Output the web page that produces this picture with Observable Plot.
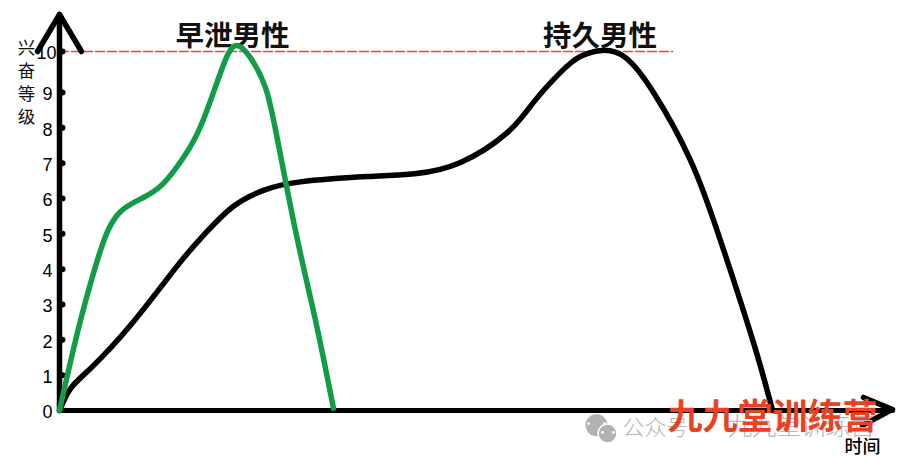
<!DOCTYPE html>
<html><head><meta charset="utf-8">
<script src="https://cdn.jsdelivr.net/npm/d3@7"></script>
<script src="https://cdn.jsdelivr.net/npm/@observablehq/plot@0.6"></script>
<style>html,body{margin:0;padding:0;background:#fff}svg{display:block}</style>
</head><body><div id="chart"></div>
<script>
const cjk = "'Noto Sans CJK SC','Noto Sans',sans-serif";
const latin = "'Liberation Sans',Arial,sans-serif";

// excitement curves: time (x) and excitement level (y)
const greenT = [0,2.1,4.1,5.1,6.3,8.4,10.4,12.4,14.2,16.2,17.7,19.4,20.6,21.6,23.6,25.6,27.4];
const greenV = [0,2.55,4.53,5.24,5.68,6.03,6.43,7.16,8.1,9.55,10.16,9.73,9.12,7.95,5.09,2.55,0.06];
const blackT = [0,1.1,3.1,7.1,11.8,14.6,17.4,20.4,24.1,30.8,35.5,40.1,44.8,47.4,50.1,52.1,54.3,56.6,59.4,63.1,66.1,69.4,71.3];
const blackV = [0,0.62,1.19,2.41,4.10,5.02,5.78,6.23,6.47,6.62,6.7,7.02,7.87,8.72,9.49,9.88,10.03,9.85,9.0,7.08,4.81,1.92,0];

const levels = [0,1,2,3,4,5,6,7,8,9,10];
const levelLabelX = [-0.7,-0.7,-0.7,-0.7,-0.7,-0.7,-0.7,-0.7,-0.7,-0.7,-0.3];

const yAxisX = [0,0], yAxisY = [0,11];
const yHeadX = [-2.2,0,2.2], yHeadY = [10,11,10];
const xAxisX = [0,83.3], xAxisY = [0,0];
const xHeadX = [80.4,83.3,80.3], xHeadY = [0.37,0.03,-0.42];
const refX = [0,61.3], refY = [10,10];

const seriesLabels = ["早泄男性","持久男性"];
const seriesLabelX = [17.3,54.05], seriesLabelY = [10.4,10.4];

const bubbleX = [53.7,54.8], bubbleY = [-0.42,-0.65], bubbleR = [11,9.5];
const eyeX = [52.9,54.5,54.3,55.4], eyeY = [-0.37,-0.37,-0.62,-0.62];

function line(xs, ys, opts) {
  return Plot.line(xs.map((_, i) => i), {x: i => xs[i], y: i => ys[i], ...opts});
}
function text(items, xs, ys, opts) {
  return Plot.text(items.map((_, i) => i), {x: i => xs[i], y: i => ys[i], text: i => items[i], ...opts});
}

const chart = Plot.plot({
  width: 902, height: 464,
  margin: 0, marginTop: 0, marginRight: 0, marginBottom: 0, marginLeft: 0,
  style: {background: "#fff"},
  x: {type: "linear", domain: [-5.9, 84.3], range: [0, 902], axis: null},
  y: {type: "linear", domain: [-1.5, 0, 9, 10, 11], range: [463, 410, 92, 51, 14], axis: null},
  marks: [
    text(seriesLabels, seriesLabelX, seriesLabelY, {fontFamily: cjk, fontWeight: 700, fontSize: 28.5, fill: "#111"}),
    line(refX, refY, {stroke: "#ff3b3b", strokeWidth: 1.4, strokeDasharray: "9 3"}),
    line(yAxisX, yAxisY, {stroke: "#000", strokeWidth: 5.5}),
    line(yHeadX, yHeadY, {stroke: "#000", strokeWidth: 5.5}),
    line(xAxisX, xAxisY, {stroke: "#000", strokeWidth: 5}),
    line(xHeadX, xHeadY, {stroke: "#000", strokeWidth: 5.5}),
    Plot.dot(levels.slice(1), {x: () => 0.3, y: d => d, r: 3, fill: "#000"}),
    text(levels.map(String), levelLabelX, levels, {fontFamily: latin, fontSize: 18, fill: "#000", textAnchor: "end", dy: 2}),
    text(["兴\n奋\n等\n级"], [-3.3], [9.28], {fontFamily: cjk, fontSize: 17.5, lineHeight: 1.32, fill: "#111", fontWeight: 400}),
    line(blackT, blackV, {curve: "natural", stroke: "#000", strokeWidth: 5.5}),
    line(greenT, greenV, {curve: "natural", stroke: "#129c48", strokeWidth: 5.5}),
    Plot.dot([1], {x: () => bubbleX[0], y: () => bubbleY[0], r: bubbleR[0], fill: "#b2b2b2"}),
    Plot.dot([1], {x: () => bubbleX[1], y: () => bubbleY[1], r: bubbleR[1], fill: "#b2b2b2", stroke: "#fff", strokeWidth: 1.5}),
    Plot.dot(eyeX.map((_, i) => i), {x: i => eyeX[i], y: i => eyeY[i], r: 1.4, fill: "#fff"}),
    text(["公众号"], [56.3], [-0.48], {fontFamily: cjk, fontSize: 22, fill: "#b6b6b6", textAnchor: "start", fontWeight: 300}),
    text(["九九堂训练营"], [66.8], [-0.48], {fontFamily: cjk, fontSize: 24.5, fill: "#b6b6b6", textAnchor: "start", fontWeight: 300}),
    text(["九九堂训练营"], [60.8], [-0.2], {fontFamily: cjk, fontSize: 35, fontWeight: 700, fill: "#ea4125", textAnchor: "start"}),
    text(["时间"], [80.3], [-1.05], {fontFamily: cjk, fontSize: 18, fontWeight: 500, fill: "#000"})
  ]
});
document.getElementById("chart").append(chart);
</script></body></html>
